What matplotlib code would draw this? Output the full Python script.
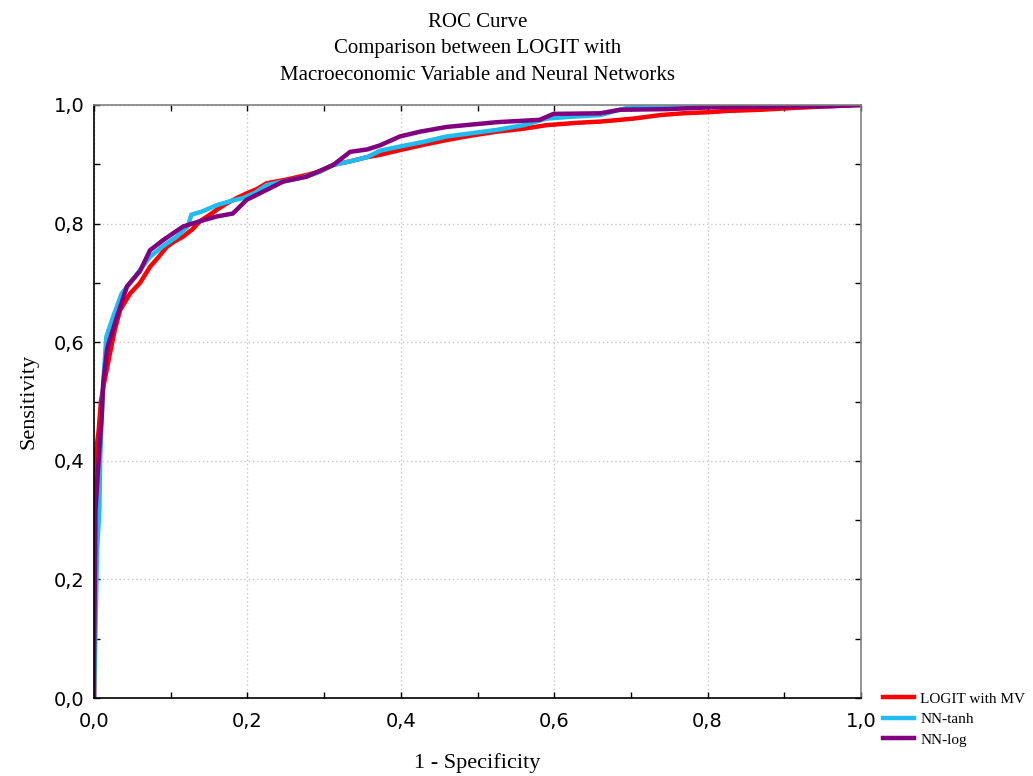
import matplotlib
matplotlib.use('Agg')
import matplotlib.pyplot as plt
from matplotlib.ticker import MultipleLocator, FuncFormatter

# ROC points (1 - specificity, sensitivity)
logit_x = [0.0, 0.0, 0.003, 0.006, 0.009, 0.013, 0.020, 0.027, 0.034, 0.047,
           0.060, 0.073, 0.085, 0.095, 0.105, 0.116, 0.128, 0.138, 0.151, 0.162,
           0.173, 0.186, 0.199, 0.212, 0.225, 0.250, 0.277, 0.295, 0.312, 0.334,
           0.356, 0.373, 0.399, 0.430, 0.460, 0.490, 0.525, 0.560, 0.590, 0.630,
           0.660, 0.703, 0.738, 0.768, 0.803, 0.825, 0.870, 0.911, 0.960, 1.0]
logit_y = [0.0, 0.20, 0.42, 0.45, 0.50, 0.53, 0.576, 0.62, 0.654, 0.682,
           0.700, 0.727, 0.745, 0.761, 0.770, 0.778, 0.790, 0.804, 0.815, 0.825,
           0.834, 0.843, 0.851, 0.858, 0.868, 0.874, 0.882, 0.888, 0.899, 0.905,
           0.912, 0.916, 0.924, 0.933, 0.941, 0.948, 0.955, 0.960, 0.966, 0.970,
           0.972, 0.977, 0.983, 0.986, 0.988, 0.990, 0.992, 0.995, 0.998, 1.0]

tanh_x = [0.0, 0.001, 0.002, 0.004, 0.007, 0.008, 0.010, 0.012, 0.016, 0.025,
          0.036, 0.050, 0.062, 0.073, 0.090, 0.108, 0.122, 0.127, 0.140, 0.160,
          0.178, 0.194, 0.210, 0.225, 0.250, 0.269, 0.290, 0.312, 0.334, 0.356,
          0.373, 0.399, 0.430, 0.460, 0.490, 0.525, 0.560, 0.590, 0.620, 0.660,
          0.677, 0.695, 0.730, 0.790, 1.0]
tanh_y = [0.0, 0.06, 0.12, 0.25, 0.317, 0.40, 0.47, 0.53, 0.609, 0.643,
          0.682, 0.705, 0.725, 0.744, 0.762, 0.778, 0.795, 0.815, 0.820, 0.831,
          0.838, 0.843, 0.852, 0.865, 0.872, 0.877, 0.885, 0.899, 0.905, 0.912,
          0.923, 0.930, 0.938, 0.947, 0.952, 0.958, 0.966, 0.977, 0.980, 0.983,
          0.989, 0.995, 0.998, 1.0, 1.0]

log_x = [0.0, 0.0, 0.002, 0.006, 0.010, 0.012, 0.017, 0.019, 0.030, 0.043,
         0.060, 0.073, 0.090, 0.116, 0.138, 0.160, 0.181, 0.199, 0.216, 0.247,
         0.277, 0.312, 0.334, 0.356, 0.373, 0.399, 0.425, 0.460, 0.525, 0.581,
         0.599, 0.660, 0.686, 0.747, 0.803, 0.870, 0.960, 1.0]
log_y = [0.0, 0.06, 0.317, 0.40, 0.474, 0.531, 0.587, 0.598, 0.643, 0.694,
         0.72, 0.755, 0.772, 0.795, 0.804, 0.812, 0.817, 0.840, 0.851, 0.871,
         0.879, 0.899, 0.921, 0.925, 0.932, 0.947, 0.955, 0.963, 0.971, 0.975,
         0.985, 0.986, 0.992, 0.993, 0.996, 0.997, 0.998, 1.0]

labels = ['LOGIT with MV', 'NN-tanh', 'NN-log']
colors = ['#ff0000', '#1ebcef', '#800080']

serif = 'Liberation Serif'
sans = 'DejaVu Sans'

fig = plt.figure(figsize=(10.33, 7.76), dpi=100)
ax = fig.add_axes([0.091, 0.1005, 0.7425, 0.7642])

for x, y, label, c in zip([logit_x, tanh_x, log_x], [logit_y, tanh_y, log_y], labels, colors):
    ax.plot(x, y, color=c, lw=3.2, label=label, solid_joinstyle='miter')

ax.set_xlim(0, 1)
ax.set_ylim(0, 1)
ax.xaxis.set_major_locator(MultipleLocator(0.2))
ax.yaxis.set_major_locator(MultipleLocator(0.2))
ax.xaxis.set_minor_locator(MultipleLocator(0.1))
ax.yaxis.set_minor_locator(MultipleLocator(0.1))
comma = FuncFormatter(lambda v, p: f'{v:.1f}'.replace('.', ','))
ax.xaxis.set_major_formatter(comma)
ax.yaxis.set_major_formatter(comma)

ax.grid(True, which='major', linestyle=(0, (1, 2)), color='#c8c8c8', lw=1)
ax.tick_params(which='both', direction='in', top=True, right=True,
               length=4, width=1, color='black')
ax.tick_params(axis='x', which='major', pad=10, labelsize=14)
ax.tick_params(axis='y', which='major', pad=7, labelsize=14)
for lab in ax.get_xticklabels() + ax.get_yticklabels():
    lab.set_fontfamily(sans)

ax.spines['left'].set_color('black')
ax.spines['bottom'].set_color('black')
ax.spines['top'].set_color('#808080')
ax.spines['right'].set_color('#808080')
for s in ax.spines.values():
    s.set_linewidth(1.2)

ax.set_title('ROC Curve\nComparison between LOGIT with\nMacroeconomic Variable and Neural Networks',
             fontfamily=serif, fontsize=15, linespacing=1.55, pad=18)
ax.set_xlabel('1 - Specificity', fontfamily=serif, fontsize=16, labelpad=16)
ax.set_ylabel('Sensitivity', fontfamily=serif, fontsize=16, labelpad=11)

fig.legend(loc='upper left', bbox_to_anchor=(883 / 1033, 1 - 692 / 776),
           frameon=False, prop={'family': serif, 'size': 11},
           handlelength=2.0, handletextpad=0.45, labelspacing=0.45,
           borderpad=0, borderaxespad=0)

plt.savefig('out.png', dpi=100)
